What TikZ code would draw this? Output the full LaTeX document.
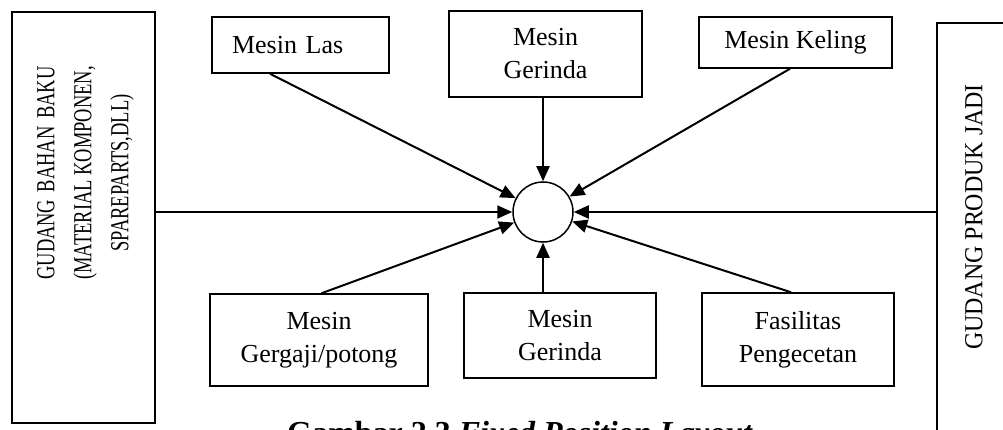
\documentclass[tikz,border=0pt]{standalone}
\usepackage{fontspec}
\setmainfont{Liberation Serif}
\usepackage{calc}
\usetikzlibrary{arrows.meta}
\tikzset{
  kotak/.style = {draw, line width=1.5pt, align=center, inner sep=0pt, font=\fontsize{26}{33}\selectfont},
  gudang/.style = {draw, line width=1.5pt, inner sep=0pt},
  tegak/.style = {rotate=90, align=center, inner sep=0pt, font=\fontsize{26}{37}\selectfont},
  pusat/.style = {draw, circle, line width=1.5pt, minimum size=60pt, inner sep=0pt},
  alur/.style = {line width=2pt, -{Triangle[length=15pt,width=13pt]}}
}

\begin{document}
\begin{tikzpicture}[x=1pt, y=-1pt]
\useasboundingbox (0,0) rectangle (1003,430);
\clip (0,0) rectangle (1003,430);
\fill[white] (0,0) rectangle (1003,430);

% gudang di kiri dan kanan
\node[gudang, minimum width=143, minimum height=411] (gbb) at (83.5,217.5) {};
\node[tegak] (gbbteks) at (84,173) {\scalebox{0.71}[1]{\begin{tabular}{@{}c@{}}
  \makebox[\widthof{(MATERIAL KOMPONEN,}][s]{GUDANG\hfill BAHAN\hfill BAKU}\\
  (MATERIAL KOMPONEN,\\
  SPAREPARTS,DLL)\end{tabular}}};
\node[gudang, minimum width=130, minimum height=440] (gpj) at (1002,243) {};
\node[tegak] (gpjteks) at (974,217) {\scalebox{0.92}[1]{GUDANG PRODUK JADI}};

% titik kerja
\node[pusat] (pusat) at (543,212) {};

% mesin di atas
\node[kotak, minimum width=177, minimum height=56, text width=137, align=left, inner xsep=20] (las) at (300.5,45) {Mesin Las};
\node[kotak, minimum width=193, minimum height=86] (gerindaA) at (545.5,54) {Mesin\\Gerinda};
\node[kotak, minimum width=193, minimum height=51] (keling) at (795.5,42.5) {Mesin Keling};

% mesin di bawah
\node[kotak, minimum width=218, minimum height=92] (gergaji) at (319,340) {Mesin\\Gergaji/potong};
\node[kotak, minimum width=192, minimum height=85] (gerindaB) at (560,335.5) {Mesin\\Gerinda};
\node[kotak, minimum width=192, minimum height=93] (cat) at (798,339.5) {Fasilitas\\Pengecetan};

\draw[alur] ([xshift=-30.5]las.south) -- (pusat);
\draw[alur] (pusat |- gerindaA.south) -- (pusat);
\draw[alur] ([xshift=-5.5]keling.south) -- (pusat);
\draw[alur] (gbb.east |- pusat) -- (pusat);
\draw[alur] (gpj.west |- pusat) -- (pusat);
\draw[alur] ([xshift=2.5]gergaji.north) -- (pusat);
\draw[alur] (pusat |- gerindaB.north) -- (pusat);
\draw[alur] ([xshift=-7]cat.north) -- (pusat);

\node[anchor=north west, inner sep=0pt, font=\fontsize{32}{38}\selectfont\bfseries] (judul) at (287,421) {Gambar 2.3 \textit{Fixed Position Layout}};
\end{tikzpicture}
\end{document}
